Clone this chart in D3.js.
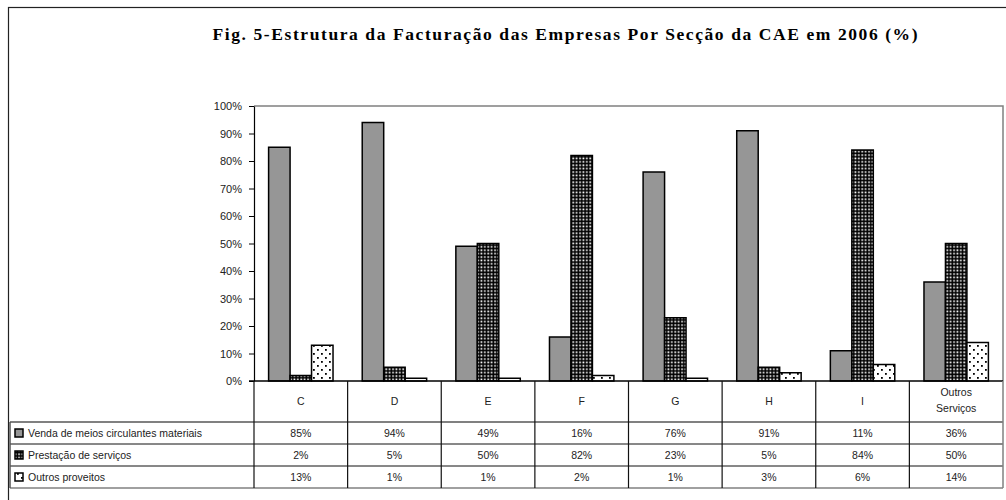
<!DOCTYPE html>
<html>
<head>
<meta charset="utf-8">
<script src="https://cdn.jsdelivr.net/npm/d3@7"></script>
<style>
  html, body { margin: 0; padding: 0; background: #fff; }
  svg { display: block; }
</style>
</head>
<body>
<div id="chart"></div>
<script>
const categories = ['C', 'D', 'E', 'F', 'G', 'H', 'I', 'Outros Serviços'];
const seriesNames = ['Venda de meios circulantes materiais', 'Prestação de serviços', 'Outros proveitos'];
const venda = [85, 94, 49, 16, 76, 91, 11, 36];
const prestacao = [2, 5, 50, 82, 23, 5, 84, 50];
const outros = [13, 1, 1, 2, 1, 3, 6, 14];
const yTicks = [0, 10, 20, 30, 40, 50, 60, 70, 80, 90, 100];

const seriesValues = [venda, prestacao, outros];
const fills = ['#969696', 'url(#checker)', 'url(#dots)'];

const width = 1006;
const height = 500;
const plot = { left: 254, right: 1003, top: 106, bottom: 381 };
const table = { left: 10, header: 422, rowH: 22 };

const svg = d3.select('#chart')
  .append('svg')
  .attr('width', width)
  .attr('height', height)
  .style('font-family', '"Liberation Sans", Arial, sans-serif');

// patterns
const defs = svg.append('defs');
const checker = defs.append('pattern')
  .attr('id', 'checker')
  .attr('patternUnits', 'userSpaceOnUse')
  .attr('width', 3.4)
  .attr('height', 3.4);
checker.append('rect').attr('width', 3.4).attr('height', 3.4).attr('fill', '#000');
checker.append('rect').attr('x', 1.2).attr('y', 1.2).attr('width', 1.7).attr('height', 1.7).attr('fill', '#fff');

const dots = defs.append('pattern')
  .attr('id', 'dots')
  .attr('patternUnits', 'userSpaceOnUse')
  .attr('width', 8)
  .attr('height', 8);
dots.append('rect').attr('width', 8).attr('height', 8).attr('fill', '#fff');
dots.append('rect').attr('x', 1).attr('y', 1).attr('width', 1.8).attr('height', 1.8).attr('fill', '#000');
dots.append('rect').attr('x', 5).attr('y', 5).attr('width', 1.8).attr('height', 1.8).attr('fill', '#000');

// outer frame
svg.append('rect')
  .attr('x', 8.5).attr('y', 7.5)
  .attr('width', 1100).attr('height', 600)
  .attr('fill', 'none')
  .attr('stroke', '#222')
  .attr('stroke-width', 1.2);

// title
svg.append('text')
  .attr('x', 565)
  .attr('y', 40)
  .attr('text-anchor', 'middle')
  .attr('textLength', 705)
  .attr('lengthAdjust', 'spacing')
  .style('font-family', '"Liberation Serif", "Times New Roman", serif')
  .style('font-weight', 'bold')
  .style('font-size', '17.5px')
  .text('Fig. 5-Estrutura da Facturação das Empresas Por Secção da CAE em 2006 (%)');

const x = d3.scaleBand()
  .domain(categories)
  .range([plot.left, plot.right])
  .paddingInner(0)
  .paddingOuter(0);

const xs = d3.scaleBand()
  .domain(d3.range(seriesValues.length))
  .range([0, x.bandwidth()])
  .paddingInner(0)
  .paddingOuter(0.68);

const y = d3.scaleLinear()
  .domain([0, 100])
  .range([plot.bottom, plot.top]);

// plot area border (top & right)
svg.append('path')
  .attr('d', `M${plot.left},${plot.top}H${plot.right}V${plot.bottom}`)
  .attr('fill', 'none')
  .attr('stroke', '#808080')
  .attr('stroke-width', 1.5);

// bars
const groups = svg.append('g')
  .selectAll('g')
  .data(seriesValues)
  .join('g')
  .attr('fill', (d, i) => fills[i]);

groups.selectAll('rect')
  .data((vals, si) => vals.map((v, ci) => ({ v, si, ci })))
  .join('rect')
  .attr('x', d => x(categories[d.ci]) + xs(d.si))
  .attr('y', d => y(d.v))
  .attr('width', xs.bandwidth())
  .attr('height', d => y(0) - y(d.v))
  .attr('stroke', '#000')
  .attr('stroke-width', 1.5);

// y axis
const yAxis = svg.append('g')
  .attr('transform', `translate(${plot.left},0)`)
  .call(d3.axisLeft(y).tickValues(yTicks).tickFormat(d => d + '%').tickSize(5).tickSizeOuter(0));
yAxis.select('.domain').attr('stroke', '#000').attr('stroke-width', 1.2);
yAxis.selectAll('.tick line').attr('stroke', '#000');
yAxis.selectAll('.tick text')
  .attr('x', -12)
  .style('font-size', '11px')
  .attr('fill', '#222');

// x baseline
svg.append('line')
  .attr('x1', plot.left - 5).attr('x2', plot.right)
  .attr('y1', plot.bottom).attr('y2', plot.bottom)
  .attr('stroke', '#000')
  .attr('stroke-width', 1.5);

// data table
const tbl = svg.append('g').style('font-size', '10.5px').attr('fill', '#222');
const tableBottom = table.header + table.rowH * seriesValues.length;

// horizontal lines
tbl.append('line')
  .attr('x1', table.left).attr('x2', plot.right)
  .attr('y1', table.header).attr('y2', table.header)
  .attr('stroke', '#808080').attr('stroke-width', 2);
d3.range(1, seriesValues.length + 1).forEach(r => {
  tbl.append('line')
    .attr('x1', table.left).attr('x2', plot.right)
    .attr('y1', table.header + r * table.rowH).attr('y2', table.header + r * table.rowH)
    .attr('stroke', r === seriesValues.length ? '#808080' : '#111')
    .attr('stroke-width', r === seriesValues.length ? 1.5 : 1);
});

// vertical lines
categories.forEach(c => {
  tbl.append('line')
    .attr('x1', x(c)).attr('x2', x(c))
    .attr('y1', plot.bottom).attr('y2', tableBottom)
    .attr('stroke', '#111').attr('stroke-width', 1.2);
});
tbl.append('line')
  .attr('x1', plot.right).attr('x2', plot.right)
  .attr('y1', plot.bottom).attr('y2', tableBottom)
  .attr('stroke', '#808080').attr('stroke-width', 1.5);
tbl.append('line')
  .attr('x1', table.left).attr('x2', table.left)
  .attr('y1', table.header).attr('y2', tableBottom)
  .attr('stroke', '#555').attr('stroke-width', 1.5);

// category labels
categories.forEach(c => {
  const words = c.split(' ');
  const cx = x(c) + x.bandwidth() / 2;
  const t = tbl.append('text')
    .attr('text-anchor', 'middle')
    .attr('x', cx);
  if (words.length === 1) {
    t.attr('y', 405).text(c);
  } else {
    t.append('tspan').attr('x', cx).attr('y', 396).text(words[0]);
    t.append('tspan').attr('x', cx).attr('y', 412).text(words.slice(1).join(' '));
  }
});

// rows: legend key, series name and values
seriesValues.forEach((vals, si) => {
  const rowMid = table.header + si * table.rowH + table.rowH / 2;
  tbl.append('rect')
    .attr('x', 15).attr('y', rowMid - 4)
    .attr('width', 8).attr('height', 8)
    .attr('fill', fills[si])
    .attr('stroke', '#000')
    .attr('stroke-width', 1.5);
  tbl.append('text')
    .attr('x', 28).attr('y', rowMid + 4)
    .text(seriesNames[si]);
  vals.forEach((v, ci) => {
    tbl.append('text')
      .attr('text-anchor', 'middle')
      .attr('x', x(categories[ci]) + x.bandwidth() / 2)
      .attr('y', rowMid + 4)
      .text(v + '%');
  });
});
</script>
</body>
</html>
